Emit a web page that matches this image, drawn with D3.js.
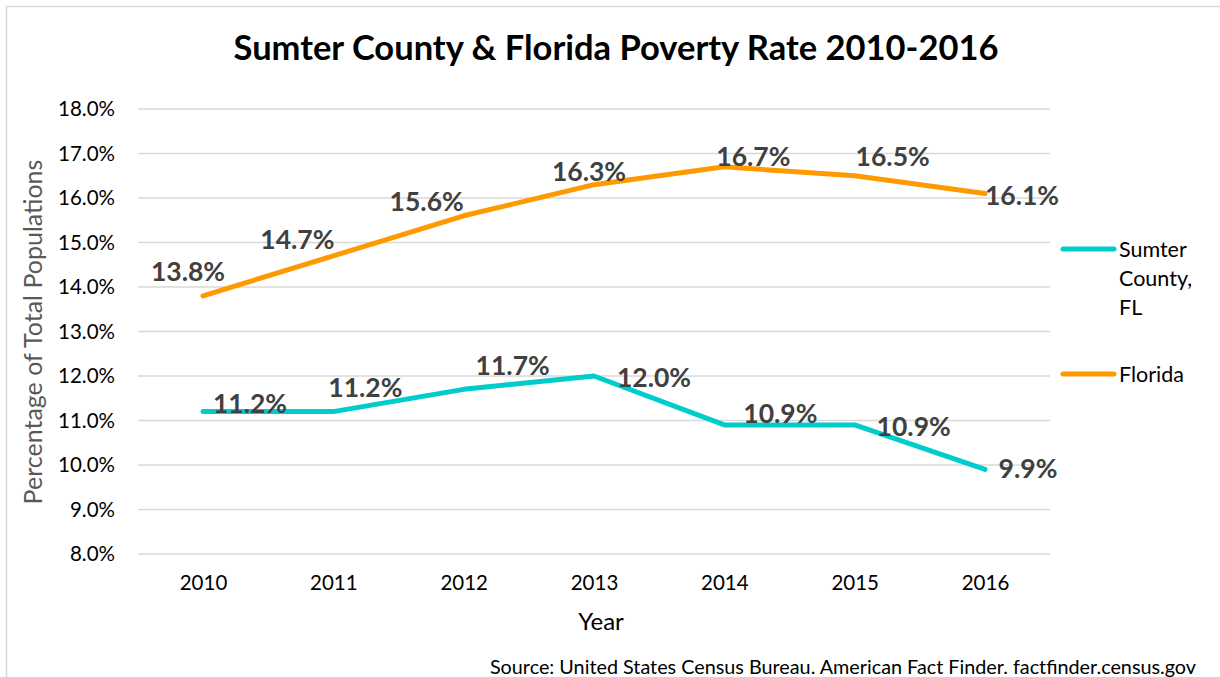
<!DOCTYPE html>
<head>
  <meta charset="utf-8">
  <script src="https://d3js.org/d3.v7.min.js"></script>
</head>
<style>
  body { margin: 0; background: #fff; }
  text { font-family: Lato, "Open Sans", sans-serif; }
</style>
<body>
<div id="chart"></div>
<script>
'use strict';

var years = ["2010", "2011", "2012", "2013", "2014", "2015", "2016"];
var sumter = [11.2, 11.2, 11.7, 12.0, 10.9, 10.9, 9.9];
var florida = [13.8, 14.7, 15.6, 16.3, 16.7, 16.5, 16.1];
var yTicks = [8, 9, 10, 11, 12, 13, 14, 15, 16, 17, 18];

// label offsets (dx, dy from point) picked to mimic the excel layout
var sumterLabelOff = [[47, -8], [32, -24], [49, -24], [60, 2], [56, -11], [59, 2], [43, -1]];
var floridaLabelOff = [[-15, -24], [-36, -16], [-37, -14], [-5, -13], [29, -10], [38, -19], [37, 2]];

var W = 1220, H = 677;

var svg = d3.select("#chart").append("svg").attr("width", W).attr("height", H);

svg.append("rect").attr("x", 6.5).attr("y", 6.5).attr("width", 1400).attr("height", 700)
  .attr("fill", "#fff").attr("stroke", "#d9d9d9").attr("stroke-width", 1.5);

var x = d3.scalePoint().domain(years).range([203, 985]);
var y = d3.scaleLinear().domain([8, 18]).range([554, 109]);

var g = svg.append("g");

// gridlines
g.selectAll(".grid").data(yTicks).enter().append("line")
  .attr("x1", 138).attr("x2", 1050)
  .attr("y1", d => y(d)).attr("y2", d => y(d))
  .attr("stroke", "#d9d9d9").attr("stroke-width", 1.5);

// y axis
var yAxis = d3.axisLeft(y).tickValues(yTicks).tickSize(0).tickPadding(14)
  .tickFormat(d => d.toFixed(1) + "%");
var ya = g.append("g").attr("transform", "translate(129,0)").call(yAxis);
ya.select(".domain").remove();
ya.selectAll("text").style("font-size", "20.5px").attr("fill", "#000").style("font-family", "Lato, sans-serif");

// x axis
var xAxis = d3.axisBottom(x).tickSize(0).tickPadding(21);
var xa = g.append("g").attr("transform", "translate(0,554)").call(xAxis);
xa.select(".domain").remove();
xa.selectAll("text").style("font-size", "20.5px").attr("fill", "#000").style("font-family", "Lato, sans-serif");

var line = d3.line().x((d, i) => x(years[i])).y(d => y(d));

var series = [
  {name: "Florida", values: florida, color: "#ff9900", off: floridaLabelOff},
  {name: "Sumter", values: sumter, color: "#00cccc", off: sumterLabelOff}
];

series.forEach(function(s) {
  g.append("path").datum(s.values).attr("d", line)
    .attr("fill", "none").attr("stroke", s.color).attr("stroke-width", 5)
    .attr("stroke-linecap", "round").attr("stroke-linejoin", "round");

  g.selectAll(null).data(s.values).enter().append("text")
    .attr("x", (d, i) => x(years[i]) + s.off[i][0])
    .attr("y", (d, i) => y(d) + s.off[i][1])
    .attr("text-anchor", "middle").attr("dy", "0.35em")
    .style("font-size", "26.5px").style("font-weight", "bold").attr("fill", "#404040")
    .text(d => d.toFixed(1) + "%");
});

// title
svg.append("text").attr("x", 616).attr("y", 60).attr("text-anchor", "middle")
  .style("font-size", "34.5px").style("font-weight", "bold").attr("fill", "#000")
  .text("Sumter County & Florida Poverty Rate 2010-2016");

// axis titles
svg.append("text").attr("transform", "translate(42,332) rotate(-90)").attr("text-anchor", "middle")
  .style("font-size", "25px").attr("fill", "#595959").text("Percentage of Total Populations");
svg.append("text").attr("x", 601).attr("y", 630).attr("text-anchor", "middle")
  .style("font-size", "24px").attr("fill", "#000").text("Year");

// legend
var legend = [
  {lines: ["Sumter", "County,", "FL"], color: "#00cccc", y: 249},
  {lines: ["Florida"], color: "#ff9900", y: 374}
];
legend.forEach(function(l) {
  svg.append("line").attr("x1", 1063).attr("x2", 1114).attr("y1", l.y).attr("y2", l.y)
    .attr("stroke", l.color).attr("stroke-width", 5).attr("stroke-linecap", "round");
  svg.append("g").selectAll("text").data(l.lines).enter().append("text")
    .attr("x", 1119).attr("y", (d, i) => l.y + i * 29).attr("dy", "0.35em")
    .style("font-size", "21.5px").attr("fill", "#000").text(d => d);
});

// source
svg.append("text").attr("x", 1196).attr("y", 674).attr("text-anchor", "end")
  .style("font-size", "19.8px").attr("fill", "#000")
  .text("Source: United States Census Bureau. American Fact Finder. factfinder.census.gov");
</script>
</body>
